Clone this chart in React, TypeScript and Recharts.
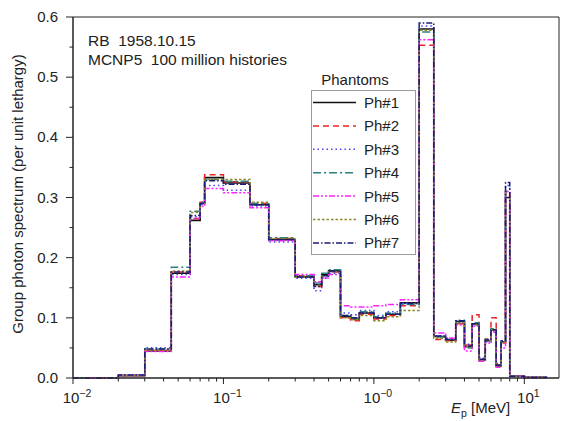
import React from "react"
import {
  Legend,
  Line,
  LineChart,
  ReferenceArea,
  XAxis,
  YAxis,
} from "recharts"

// group boundaries [MeV]
const edges = [
  0.01, 0.02, 0.03, 0.045, 0.06, 0.07, 0.075, 0.1, 0.15, 0.2, 0.3, 0.4, 0.45,
  0.5, 0.6, 0.7, 0.8, 1.0, 1.2, 1.5, 2.0, 2.5, 3.0, 3.5, 4.0, 4.5, 5.0, 5.5,
  6.0, 6.5, 7.0, 7.5, 8.0, 10, 14,
]

// per unit lethargy, one value per group
const ph1 = [
  0, 0.004, 0.045, 0.174, 0.262, 0.29, 0.333, 0.324, 0.288, 0.23, 0.168, 0.155,
  0.172, 0.178, 0.102, 0.098, 0.108, 0.1, 0.106, 0.125, 0.58, 0.069, 0.063,
  0.094, 0.052, 0.09, 0.03, 0.062, 0.08, 0.02, 0.06, 0.3, 0.003, 0.001,
]
const ph2 = [
  0, 0.004, 0.046, 0.176, 0.265, 0.292, 0.338, 0.326, 0.29, 0.232, 0.17, 0.152,
  0.17, 0.176, 0.1, 0.095, 0.106, 0.098, 0.104, 0.12, 0.553, 0.064, 0.062,
  0.09, 0.055, 0.105, 0.032, 0.065, 0.1, 0.022, 0.058, 0.31, 0.003, 0.001,
]
const ph3 = [
  0, 0.005, 0.05, 0.172, 0.268, 0.288, 0.32, 0.312, 0.286, 0.226, 0.166, 0.145,
  0.166, 0.174, 0.108, 0.105, 0.112, 0.104, 0.11, 0.124, 0.585, 0.07, 0.066,
  0.092, 0.056, 0.088, 0.034, 0.06, 0.078, 0.024, 0.062, 0.32, 0.003, 0.001,
]
const ph4 = [
  0, 0.004, 0.048, 0.184, 0.277, 0.292, 0.33, 0.327, 0.29, 0.233, 0.17, 0.158,
  0.174, 0.18, 0.104, 0.1, 0.11, 0.102, 0.108, 0.122, 0.575, 0.068, 0.064,
  0.096, 0.05, 0.092, 0.03, 0.064, 0.082, 0.021, 0.06, 0.31, 0.003, 0.001,
]
const ph5 = [
  0, 0.004, 0.044, 0.168, 0.265, 0.285, 0.315, 0.308, 0.283, 0.228, 0.172,
  0.16, 0.166, 0.172, 0.12, 0.118, 0.118, 0.12, 0.122, 0.13, 0.562, 0.075,
  0.066, 0.088, 0.045, 0.086, 0.028, 0.058, 0.076, 0.018, 0.05, 0.31, 0.003,
  0.001,
]
const ph6 = [
  0, 0.004, 0.046, 0.178, 0.275, 0.29, 0.33, 0.33, 0.292, 0.232, 0.168, 0.154,
  0.17, 0.176, 0.1, 0.097, 0.104, 0.095, 0.102, 0.112, 0.578, 0.066, 0.06,
  0.092, 0.052, 0.088, 0.03, 0.062, 0.08, 0.02, 0.06, 0.305, 0.003, 0.001,
]
const ph7 = [
  0, 0.005, 0.048, 0.176, 0.27, 0.29, 0.328, 0.322, 0.288, 0.23, 0.168, 0.152,
  0.17, 0.178, 0.104, 0.1, 0.108, 0.1, 0.106, 0.124, 0.59, 0.07, 0.064, 0.095,
  0.053, 0.09, 0.031, 0.063, 0.08, 0.021, 0.062, 0.325, 0.003, 0.001,
]

const series = [
  { key: "p1", name: "Ph#1", values: ph1, color: "#111111", dash: undefined, width: 1.6 },
  { key: "p2", name: "Ph#2", values: ph2, color: "#ee2222", dash: "6 4", width: 1.5 },
  { key: "p3", name: "Ph#3", values: ph3, color: "#4444ee", dash: "1.5 3", width: 1.6 },
  { key: "p4", name: "Ph#4", values: ph4, color: "#2f8080", dash: "8 3 2 3", width: 1.5 },
  { key: "p5", name: "Ph#5", values: ph5, color: "#ff22ff", dash: "6 2 2 2 2 2", width: 1.5 },
  { key: "p6", name: "Ph#6", values: ph6, color: "#8a8a28", dash: "2.5 2", width: 1.5 },
  { key: "p7", name: "Ph#7", values: ph7, color: "#1c1c78", dash: "6 2 1.5 2", width: 1.5 },
]

const xMajor = [0.01, 0.1, 1, 10]
const xMajorLabels = ["\u22122", "\u22121", "\u22120", "1"]
const yTicks = [0, 0.05, 0.1, 0.15, 0.2, 0.25, 0.3, 0.35, 0.4, 0.45, 0.5, 0.55, 0.6]

const X_MAX = 17
const FONT = "'Liberation Sans', Arial, Helvetica, sans-serif"
const INK = "#222"

// step rows: value of group i starts at edges[i], last edge closes the histogram
const data = edges.map((e, i) => {
  const row: Record<string, number> = { e }
  series.forEach((s) => {
    row[s.key] = i < s.values.length ? s.values[i] : 0
  })
  return row
})

const xTicks: number[] = []
xMajor.forEach((m) => {
  for (let k = 1; k <= 9; k++) {
    const t = +(m * k).toPrecision(3)
    if (t <= X_MAX) xTicks.push(t)
  }
})

const XTick = (props: any) => {
  const { x, y, payload } = props
  const idx = xMajor.indexOf(payload.value)
  const major = idx >= 0
  return (
    <g>
      <line x1={x} x2={x} y1={y} y2={y + (major ? 6 : 3.5)} stroke={INK} strokeWidth={1} />
      {major && (
        <text x={x + 4} y={y + 25} textAnchor="middle" fontSize={15} fill={INK} fontFamily={FONT}>
          10
          <tspan dy={-6} fontSize={10.5}>
            {xMajorLabels[idx]}
          </tspan>
        </text>
      )}
    </g>
  )
}

const YTick = (props: any) => {
  const { x, y, payload } = props
  const v = payload.value
  const major = Math.abs(Math.round(v * 10) - v * 10) < 1e-6
  return (
    <g>
      <line x1={x} x2={x - (major ? 7 : 3.5)} y1={y} y2={y} stroke={INK} strokeWidth={1} />
      {major && (
        <text x={x - 15} y={y + 5} textAnchor="end" fontSize={15} fill={INK} fontFamily={FONT}>
          {v.toFixed(1)}
        </text>
      )}
    </g>
  )
}

const renderLegend = () => (
  <svg width={110} height={190} style={{ overflow: "visible" }}>
    <text x={44} y={15} textAnchor="middle" fontSize={15} fill={INK} fontFamily={FONT}>
      Phantoms
    </text>
    <rect x={0.5} y={20.5} width={104} height={164} fill="#fff" stroke="#9a9a9a" strokeWidth={1} />
    {series.map((s, i) => {
      const cy = 32.5 + i * 23.4
      return (
        <g key={s.key}>
          <line x1={2} x2={45} y1={cy} y2={cy} stroke={s.color} strokeWidth={s.width} strokeDasharray={s.dash} />
          <text x={53} y={cy + 5.5} fontSize={15} fill={INK} fontFamily={FONT}>
            {s.name}
          </text>
        </g>
      )
    })}
  </svg>
)

export default function App() {
  return (
    <div style={{ position: "absolute", left: 0, top: 0, width: 561, height: 421, background: "#fff" }}>
      <LineChart
        width={561}
        height={421}
        data={data}
        margin={{ top: 17, right: 2, bottom: 0, left: 0 }}
      >
        <XAxis
          dataKey="e"
          type="number"
          scale="log"
          domain={[0.01, X_MAX]}
          allowDataOverflow
          ticks={xTicks}
          interval={0}
          tick={<XTick />}
          tickLine={false}
          tickSize={0}
          tickMargin={0}
          height={43}
          stroke={INK}
          label={{
            content: () => (
              <text x={451} y={413} fontSize={15} fill={INK} fontFamily={FONT}>
                <tspan fontStyle="italic">E</tspan>
                <tspan dy={4} fontSize={10.5}>p</tspan>
                <tspan dy={-4}> [MeV]</tspan>
              </text>
            ),
          }}
        />
        <YAxis
          type="number"
          domain={[0, 0.6]}
          ticks={yTicks}
          interval={0}
          tick={<YTick />}
          tickLine={false}
          tickSize={0}
          tickMargin={0}
          width={73}
          stroke={INK}
          label={{
            content: () => (
              <text
                x={0}
                y={0}
                transform="translate(23 194) rotate(-90)"
                textAnchor="middle"
                fontSize={15}
                fill={INK}
                fontFamily={FONT}
              >
                Group photon spectrum (per unit lethargy)
              </text>
            ),
          }}
        />
        <ReferenceArea x1={0.01} x2={X_MAX} y1={0} y2={0.6} fill="none" stroke={INK} strokeWidth={1} ifOverflow="visible" />
        {series.map((s) => (
          <Line
            key={s.key}
            dataKey={s.key}
            name={s.name}
            type="stepAfter"
            stroke={s.color}
            strokeWidth={s.width}
            strokeDasharray={s.dash}
            dot={false}
            activeDot={false}
            isAnimationActive={false}
          />
        ))}
        <Legend
          layout="vertical"
          align="center"
          verticalAlign="middle"
          content={renderLegend}
          wrapperStyle={{ left: 311, top: 70, width: 110, height: 190 }}
        />
      </LineChart>
      <svg
        width={561}
        height={421}
        style={{ position: "absolute", left: 0, top: 0, pointerEvents: "none" }}
      >
        <text x={88} y={46} fontSize={15.5} fill={INK} fontFamily={FONT} style={{ whiteSpace: "pre" }}>
          RB  1958.10.15
        </text>
        <text x={88} y={65} fontSize={15.5} fill={INK} fontFamily={FONT} style={{ whiteSpace: "pre" }}>
          MCNP5  100 million histories
        </text>
      </svg>
    </div>
  )
}
